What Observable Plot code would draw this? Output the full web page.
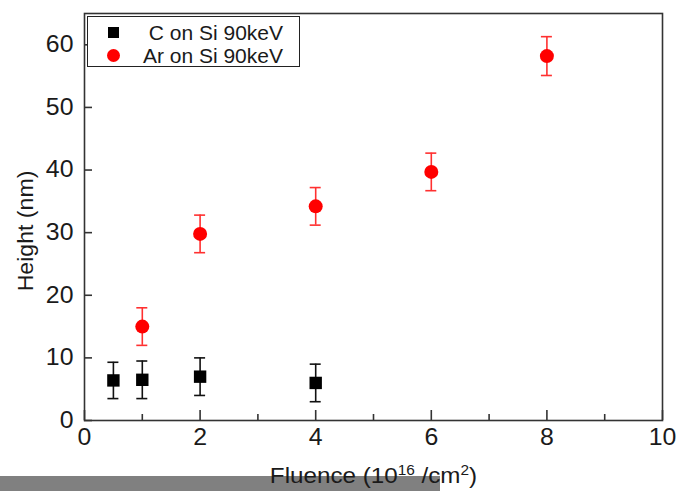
<!DOCTYPE html>
<html>
<head>
<meta charset="utf-8">
<script src="https://cdn.jsdelivr.net/npm/d3@7"></script>
<script src="https://cdn.jsdelivr.net/npm/@observablehq/plot@0.6"></script>
<style>
  html, body { margin: 0; padding: 0; background: #fff; }
  #wrap { position: relative; width: 680px; height: 491px; overflow: hidden; font-family: "Liberation Sans", Arial, sans-serif; }
  #graybar { position: absolute; left: 0; top: 476px; width: 440px; height: 15px; background: #808080; z-index: 0; }
  #chart { position: absolute; left: 0; top: 0; z-index: 1; }
  #legend { position: absolute; left: 87px; top: 16px; width: 213px; height: 51px; box-sizing: border-box;
            border: 1.5px solid #222; background: #fff; z-index: 2; }
  .lrow { position: absolute; left: 0; right: 0; height: 23px; }
  .lmark { position: absolute; }
  .ltext { position: absolute; right: 16px; top: 0; line-height: 23px; font-size: 21px; color: #1a1a1a; white-space: nowrap; }
</style>
</head>
<body>
<div id="wrap">
  <div id="graybar"></div>
  <div id="chart"></div>
  <div id="legend"></div>
</div>
<script>
// ---- data ----
const seriesNames = ["C on Si 90keV", "Ar on Si 90keV"];
const seriesColors = ["#000000", "#ff0000"];
const seriesErrColors = ["#111111", "#ff3030"];
const seriesSymbols = ["square", "circle"];

const fluenceC = [0.5, 1, 2, 4];
const heightC  = [6.4, 6.5, 7.0, 6.0];
const errC     = [2.9, 3.0, 3.0, 3.0];

const fluenceAr = [1, 2, 4, 6, 8];
const heightAr  = [15.0, 29.8, 34.2, 39.7, 58.2];
const errAr     = [3.0, 3.0, 3.0, 3.0, 3.1];

const xMajorTicks = [0, 2, 4, 6, 8, 10];
const xMinorTicks = [1, 3, 5, 7, 9];
const yMajorTicks = [0, 10, 20, 30, 40, 50, 60];
const xDomain = [0, 10];
const yDomain = [0, 65];
const xLabel = "Fluence (10|16| /cm|2|)";
const yLabel = "Height (nm)";

// ---- build table ----
const rows = [];
fluenceC.forEach((f, i) => rows.push({s: 0, x: f, y: heightC[i], e: errC[i]}));
fluenceAr.forEach((f, i) => rows.push({s: 1, x: f, y: heightAr[i], e: errAr[i]}));

const W = 680, H = 491;
const mL = 84, mR = 18, mT = 13, mB = 71;
const plotW = W - mL - mR, plotH = H - mT - mB;
const font = "Liberation Sans, Arial, sans-serif";
const ink = "#1a1a1a";

const marks = [];
// error bars
for (let s = 0; s < 2; s++) {
  const d = rows.filter(r => r.s === s);
  marks.push(Plot.ruleX(d, {x: "x", y1: r => r.y - r.e, y2: r => r.y + r.e, stroke: seriesErrColors[s], strokeWidth: 1.6}));
  marks.push(Plot.ruleY(d, {y: r => r.y + r.e, x1: "x", x2: "x", insetLeft: -5.5, insetRight: -5.5, stroke: seriesErrColors[s], strokeWidth: 1.6}));
  marks.push(Plot.ruleY(d, {y: r => r.y - r.e, x1: "x", x2: "x", insetLeft: -5.5, insetRight: -5.5, stroke: seriesErrColors[s], strokeWidth: 1.6}));
  marks.push(Plot.dot(d, {x: "x", y: "y", r: 7, symbol: seriesSymbols[s], fill: seriesColors[s], stroke: "none"}));
}
// frame and inward ticks
marks.push(Plot.frame({stroke: "#333", strokeWidth: 1.6}));
marks.push(Plot.tickX(xMajorTicks, {x: d => d, insetTop: plotH - 10, stroke: "#333", strokeWidth: 1.6}));
marks.push(Plot.tickX(xMinorTicks, {x: d => d, insetTop: plotH - 6, stroke: "#333", strokeWidth: 1.6}));
marks.push(Plot.tickY(yMajorTicks, {y: d => d, insetRight: plotW - 8, stroke: "#333", strokeWidth: 1.6}));
// axes (labels only)
marks.push(Plot.axisX(xMajorTicks, {tickSize: 0, tickPadding: 8, fontSize: 23, fill: ink, label: null}));
marks.push(Plot.axisY(yMajorTicks, {tickSize: 0, tickPadding: 11, fontSize: 23, fill: ink, label: null}));
// axis titles
marks.push(Plot.text([yLabel], {text: d => d, frameAnchor: "left", textAnchor: "middle", rotate: -90, dx: -59, dy: 14, fontSize: 22, fill: ink}));
marks.push(Plot.text([xLabel.replace(/\|/g, "")], {text: d => d, frameAnchor: "bottom", textAnchor: "middle", dy: 62, lineAnchor: "bottom", fontSize: 22, fill: ink}));

const chart = Plot.plot({
  width: W, height: H,
  marginLeft: mL, marginRight: mR, marginTop: mT, marginBottom: mB,
  x: {domain: xDomain, axis: null},
  y: {domain: yDomain, axis: null},
  style: {fontFamily: font, background: "transparent", overflow: "visible"},
  marks
});
document.getElementById("chart").appendChild(chart);

// slight horizontal stretch of the wide original lettering
function stretch(el, k) {
  const len = el.getComputedTextLength();
  el.setAttribute("textLength", len * k);
  el.setAttribute("lengthAdjust", "spacingAndGlyphs");
}
d3.select(chart).selectAll("g[aria-label='x-axis tick label'] text, g[aria-label='y-axis tick label'] text")
  .each(function () { stretch(this, 1.08); });

// superscripts in the x title, stretch of titles
const parts = xLabel.split("|");
const plain = parts.join("");
d3.select(chart).selectAll("text").each(function () {
  if (this.textContent === plain) {
    const t = d3.select(this);
    t.text(null);
    parts.forEach((p, i) => {
      const sup = i % 2 === 1;
      const ts = t.append("tspan").text(p);
      if (sup) ts.attr("font-size", 14).attr("dy", -8);
      else if (i > 0) ts.attr("dy", 8);
    });
    stretch(this, 1.1);
  } else if (this.textContent === yLabel) {
    stretch(this, 1.05);
  }
});

// legend
const leg = document.getElementById("legend");
seriesNames.forEach((name, i) => {
  const row = document.createElement("div");
  row.className = "lrow";
  row.style.top = (4 + i * 23) + "px";
  const m = document.createElement("div");
  m.className = "lmark";
  const sz = seriesSymbols[i] === "square" ? 11 : 13;
  m.style.width = sz + "px"; m.style.height = sz + "px";
  m.style.left = (25 - sz / 2) + "px";
  m.style.top = (11.5 - sz / 2) + "px";
  m.style.background = seriesColors[i];
  if (seriesSymbols[i] === "circle") m.style.borderRadius = "50%";
  const tx = document.createElement("div");
  tx.className = "ltext";
  tx.textContent = name;
  row.appendChild(m); row.appendChild(tx);
  leg.appendChild(row);
});
</script>
</body>
</html>
